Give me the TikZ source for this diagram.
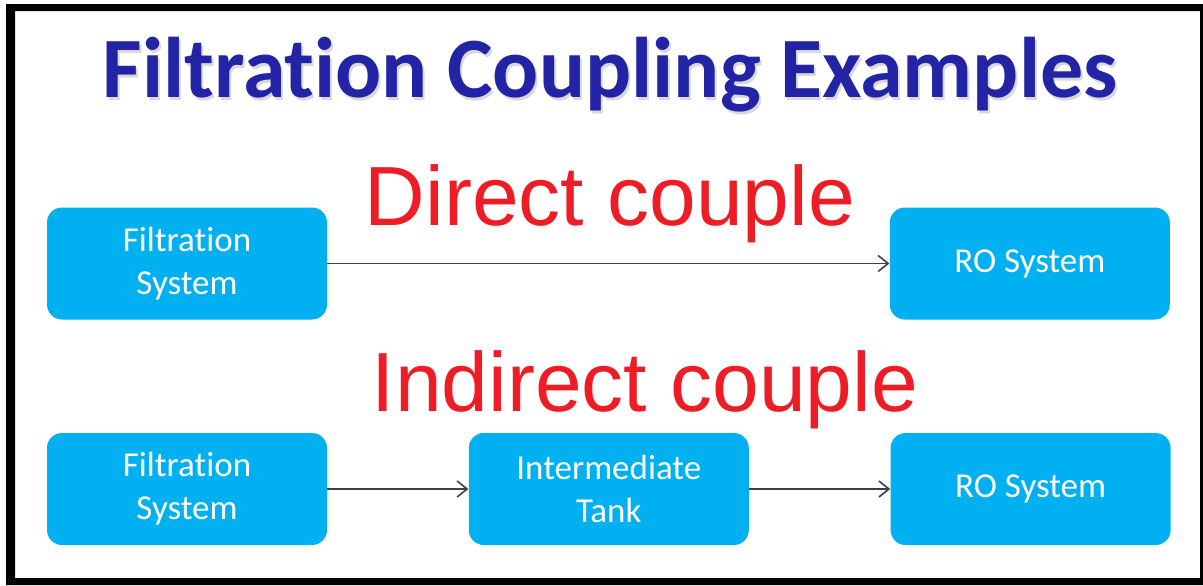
\documentclass[tikz,border=0pt]{standalone}
\usepackage{fontspec}
\usepackage{tikz}
\usetikzlibrary{arrows.meta,positioning}
\setmainfont{Carlito}[Ligatures={NoCommon,NoRare}]
\newfontfamily\arialfont{Liberation Sans}
\definecolor{boxfill}{HTML}{00B0F0}
\definecolor{titleblue}{HTML}{2323A6}
\definecolor{headred}{HTML}{EE1C25}
\definecolor{arrgray}{HTML}{404040}

\begin{document}
\begin{tikzpicture}[
    x=0.5pt, y=-0.5pt,
    node distance=70.5pt,
    unit/.style={rounded corners=7.5pt, fill=boxfill, text=white,
                 minimum width=140pt, minimum height=56pt, inner sep=0pt,
                 align=center, font=\fontsize{17.5}{21.5}\selectfont},
    title/.style={anchor=base, inner sep=0pt, font=\bfseries\fontsize{43}{50}\selectfont},
    head/.style={anchor=base, inner sep=0pt, text=headred,
                 font=\arialfont\fontsize{42}{50}\selectfont},
    arr/.style={-{Straight Barb[length=5pt,width=8pt]}, arrgray, line width=0.8pt},
  ]
  \useasboundingbox (0,0) rectangle (1203,585);
  % frame
  \fill[black, even odd rule] (6,4) rectangle (1203,585) (15,11) rectangle (1200,578);

  \node[title, text=gray!30] (shade) at (612,100) {Filtration Coupling Examples};
  \node[title, text=titleblue] (ttl) at (610,97) {Filtration Coupling Examples};

  % direct
  \node[unit] (fs1) at (187,263.5) {Filtration\\System};
  \node[unit, right=281pt of fs1] (ro1) {RO System};
  \node[head] (direct) at (610,225) {Direct couple};

  % indirect
  \node[unit] (fs2) at (187,489) {Filtration\\System};
  \node[unit, right=of fs2] (tank) {Intermediate\\Tank};
  \node[unit, right=of tank] (ro2) {RO System};
  \node[head] (indirect) at (645,411) {Indirect couple};

  \draw[arr] (fs1) -- (ro1);
  \draw[arr] (fs2) -- (tank);
  \draw[arr] (tank) -- (ro2);
\end{tikzpicture}
\end{document}
